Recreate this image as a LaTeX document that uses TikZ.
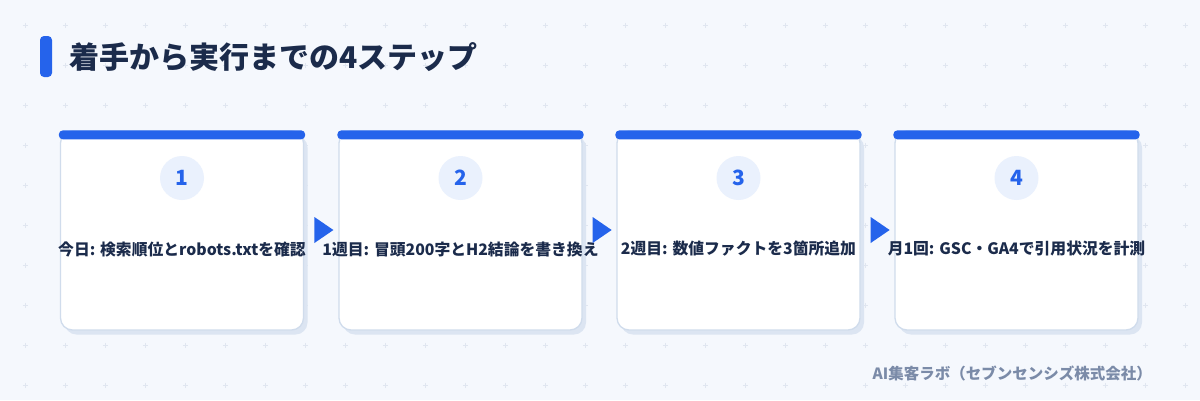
\documentclass[tikz,border=0pt]{standalone}
\usepackage{fontspec}
\setmainfont{Noto Sans CJK JP}
\usetikzlibrary{shapes.geometric,calc}
\definecolor{bg}{HTML}{F5F8FD}
\definecolor{plusc}{HTML}{E0E6F0}
\definecolor{accent}{HTML}{2563EB}
\definecolor{navy}{HTML}{1B2B4B}
\definecolor{cardborder}{HTML}{D0DCEC}
\definecolor{shadowc}{HTML}{DCE5F2}
\definecolor{circfill}{HTML}{EAF1FD}
\definecolor{footc}{HTML}{7B8BA8}
\tikzset{
  cardbox/.style={draw=cardborder, line width=1.3pt, fill=white, rounded corners=12pt,
    minimum width=243pt, minimum height=199pt, inner sep=0pt},
  shadowbox/.style={fill=shadowc, rounded corners=12pt, minimum width=243pt,
    minimum height=199pt, inner sep=0pt},
  numcirc/.style={circle, fill=circfill, minimum size=44pt, inner sep=0pt,
    text=accent, font=\bfseries\fontsize{21}{21}\selectfont},
  steplabel/.style={text=navy, font=\bfseries\fontsize{15.8}{16}\selectfont, inner sep=0pt},
  arrowtri/.style={isosceles triangle, isosceles triangle apex angle=68, fill=accent,
    inner sep=0pt, minimum height=19pt, minimum width=26pt, isosceles triangle stretches},
  topbar/.style={fill=accent, rounded corners=4pt},
  plusmark/.style={draw=plusc, line width=0.8pt}
}
\begin{document}
\begin{tikzpicture}[x=1pt,y=-1pt]
\useasboundingbox (0,0) rectangle (1200,400);
\fill[bg] (0,0) rectangle (1200,400);
% background plus marks
\foreach \i in {0,...,29}{
  \foreach \j in {0,...,9}{
    \draw[plusmark] (25+40*\i-2.5,25+40*\j) -- (25+40*\i+2.5,25+40*\j)
                    (25+40*\i,25+40*\j-2.5) -- (25+40*\i,25+40*\j+2.5);
  }
}
% title
\node[topbar, minimum width=12pt, minimum height=41pt, inner sep=0pt] (tbar) at (46,56.5) {};
\node[anchor=west, text=navy, font=\bfseries\fontsize{30}{30}\selectfont, inner sep=0pt] (title) at (69,57) {着手から実行までの4ステップ};
% cards
\foreach \k/\cx/\num/\lab in {
  1/182/1/{今日: 検索順位とrobots.txtを確認},
  2/460.5/2/{1週目: 冒頭200字とH2結論を書き換え},
  3/738.5/3/{2週目: 数値ファクトを3箇所追加},
  4/1016.5/4/{月1回: GSC・GA4で引用状況を計測}}{
  \node[shadowbox] (s\k) at (\cx+4,235) {};
  \node[cardbox] (c\k) at (\cx,230.5) {};
  \fill[topbar] ($(c\k.north west)+(-1,0)$) rectangle ($(c\k.north east)+(1,9)$);
  \node[numcirc] (n\k) at (\cx,178) {\num};
  \node[steplabel] (l\k) at (\cx,249) {\lab};
}
% arrows between cards
\node[arrowtri] (a1) at ($(c1.east)!0.5!(c2.west)+(0,-0.5)$) {};
\node[arrowtri] (a2) at ($(c2.east)!0.5!(c3.west)+(0,-0.5)$) {};
\node[arrowtri] (a3) at ($(c3.east)!0.5!(c4.west)+(0,-0.5)$) {};
% footer
\node[anchor=east, text=footc, font=\bfseries\fontsize{15.5}{16}\selectfont, inner sep=0pt] (foot) at (1152,373) {AI集客ラボ（セブンセンシズ株式会社）};
\end{tikzpicture}
\end{document}
